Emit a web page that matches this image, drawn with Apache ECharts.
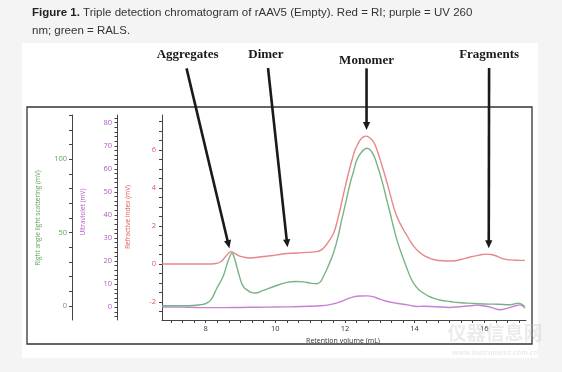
<!DOCTYPE html>
<html><head><meta charset="utf-8">
<script src="https://cdn.jsdelivr.net/npm/echarts@6/dist/echarts.min.js"></script>
<style>html,body{margin:0;padding:0;background:#f4f4f4}#c{width:562px;height:372px}</style>
</head><body><div id="c"></div>
<script>
// ---- data ----
const redX = [6.75,7.5,8.0,8.3,8.45,8.6,8.72,8.85,9.0,9.27,9.6,10.0,10.33,10.8,11.19,11.3,11.38,11.5,11.67,11.8,11.9,12.0,12.1,12.2,12.29,12.37,12.45,12.53,12.6,12.7,12.82,12.9,13.0,13.1,13.2,13.3,13.39,13.48,13.58,13.68,13.78,13.87,13.97,14.1,14.25,14.4,14.54,14.8,15.11,15.35,15.6,15.85,16.07,16.2,16.31,16.5,16.65,16.9,17.17];
const redY = [0,0,0,0.03,0.15,0.45,0.65,0.55,0.4,0.32,0.38,0.47,0.55,0.6,0.65,0.72,0.83,1.1,1.6,2.4,3.2,4.0,4.77,5.45,6.0,6.3,6.55,6.68,6.72,6.65,6.42,6.1,5.55,4.95,4.32,3.65,3.05,2.55,2.15,1.8,1.5,1.22,0.95,0.68,0.47,0.33,0.24,0.17,0.16,0.25,0.37,0.47,0.52,0.5,0.45,0.3,0.23,0.2,0.19];

const greenX = [6.75,7.5,7.84,8.0,8.15,8.32,8.5,8.62,8.7,8.75,8.82,8.89,8.96,9.03,9.1,9.18,9.3,9.42,9.65,10.0,10.33,10.6,10.8,11.0,11.19,11.3,11.38,11.5,11.67,11.8,11.9,12.0,12.15,12.25,12.34,12.48,12.63,12.72,12.82,12.9,13.0,13.1,13.2,13.3,13.39,13.48,13.58,13.68,13.78,13.87,13.97,14.1,14.25,14.4,14.54,14.75,15.02,15.25,15.49,15.8,16.07,16.4,16.74,16.85,16.98,17.08,17.17];
const greenY = [0,0,0.7,1.5,4,12,20,29,34,36,33,27,21,15.5,12.5,10.9,9.2,8.7,10.5,13.5,16.0,16.6,16.3,15.5,15.0,16.5,20,26,36,47,58,68,83.6,92,99.5,105,107.5,106.5,103,98,90.5,82,72.3,63,54,46,38.5,32,25.5,20,15.5,11.5,8.7,6.6,5.2,3.8,2.9,2.2,1.8,1.4,1.2,1.0,0.7,1.2,1.8,1.0,-0.5];

const purpleX = [6.75,7.5,8.0,8.5,9.0,9.5,10.0,10.5,11.0,11.3,11.5,11.7,11.86,12.0,12.22,12.45,12.63,12.8,13.0,13.2,13.48,13.58,13.8,14.06,14.25,14.6,15.02,15.3,15.6,15.79,16.0,16.2,16.46,16.65,16.85,17.03,17.17];
const purpleY = [0.1,0,-0.2,-0.2,-0.1,0.0,0.1,0.2,0.4,0.6,0.9,1.6,2.3,3.2,4.4,4.85,4.9,4.6,3.5,2.6,1.7,1.5,1.0,0.3,0.4,0.2,-0.1,0.2,0.6,0.9,0.5,-0.1,-1.1,-0.5,0.4,1.0,-0.4];

const xLabels = [8,10,12,14,16];
const redLabels = [-2,0,2,4,6];
const greenLabels = [0,50,100];
const purpleLabels = [0,10,20,30,40,50,60,70,80];

// annotations in data units (x: mL, y: RI units)
const annNames = ['Aggregates','Dimer','Monomer','Fragments'];
const annTipX  = [8.68,10.35,12.62,16.13];
const annTipY  = [0.83,0.88,7.04,0.83];
const annTailX = [7.45,9.79,12.62,16.14];
const annTailY = [10.28,10.30,10.28,10.30];
const annLabelX = [7.48,9.73,12.62,16.14];
const annLabelY = [10.98,10.98,10.68,10.98];

// ---- helpers ----
function range(a,b,s){const r=[];for(let v=a;v<=b+1e-9;v+=s)r.push(Math.round(v*1000)/1000);return r;}
function zip(xs,ys){return xs.map((x,i)=>[x,ys[i]]);}

const chart = echarts.init(document.getElementById('c'),null,{renderer:'canvas'});
const axFont = '"Open Sans", "Noto Sans", sans-serif';
const lineCol = '#444';

const option = {
  animation:false,
  backgroundColor:'#f4f4f4',
  grid:{left:162, top:115, right:36, bottom:52, containLabel:false, outerBoundsMode:'none'},
  xAxis:{
    type:'value', min:6.745, max:17.2, position:'bottom',
    axisLine:{onZero:false, lineStyle:{color:lineCol,width:1}},
    axisTick:{show:true, length:3, inside:false, customValues:range(7,17,1/3), lineStyle:{color:lineCol}},
    axisLabel:{customValues:xLabels, fontSize:7.5, color:'#333', margin:5, fontFamily:axFont},
    splitLine:{show:false}
  },
  yAxis:[
    {type:'value', min:-2.94, max:7.83, position:'left', offset:0,
     axisLine:{show:true,onZero:false,lineStyle:{color:lineCol}},
     axisTick:{show:true,length:3,customValues:range(-2.5,7.5,0.5),lineStyle:{color:lineCol}},
     axisLabel:{customValues:redLabels, fontSize:7.5, color:'#e05a5a', margin:6, fontFamily:axFont},
     splitLine:{show:false}},
    {type:'value', min:-9.7, max:130.2, position:'left', offset:90,
     axisLine:{show:true,onZero:false,lineStyle:{color:lineCol}},
     axisTick:{show:true,length:3,customValues:range(0,130,10),lineStyle:{color:lineCol}},
     axisLabel:{customValues:greenLabels, fontSize:7.5, color:'#5da35d', margin:5, fontFamily:axFont},
     splitLine:{show:false}},
    {type:'value', min:-5.55, max:83.35, position:'left', offset:45,
     axisLine:{show:true,onZero:false,lineStyle:{color:lineCol}},
     axisTick:{show:true,length:2.5,customValues:range(-4,82,2),lineStyle:{color:lineCol}},
     axisLabel:{customValues:purpleLabels, fontSize:7.5, color:'#b05cc0', margin:5, fontFamily:axFont},
     splitLine:{show:false}}
  ],
  series:[
    {name:'UV', type:'line', xAxisIndex:0, yAxisIndex:2, data:zip(purpleX,purpleY), showSymbol:false, smooth:0.4,
     lineStyle:{color:'#c97fd6', width:1.4}, z:2},
    {name:'RALS', type:'line', xAxisIndex:0, yAxisIndex:1, data:zip(greenX,greenY), showSymbol:false, smooth:0.4,
     lineStyle:{color:'#78b483', width:1.4}, z:3},
    {name:'RI', type:'line', xAxisIndex:0, yAxisIndex:0, data:zip(redX,redY), showSymbol:false, smooth:0.4,
     lineStyle:{color:'#e8868a', width:1.4}, z:4}
  ]
};
chart.setOption(option);

const g = [
  {type:'rect', z:-10, shape:{x:22,y:43,width:516,height:315}, style:{fill:'#ffffff'}, silent:true},
  {type:'rect', z:-9, shape:{x:27,y:107,width:505,height:237}, style:{fill:'#ffffff',stroke:'#333',lineWidth:1.3}, silent:true},
  {type:'text', left:32, top:3, z:10, style:{
     text:'{b|Figure 1.} Triple detection chromatogram of rAAV5 (Empty). Red = RI; purple = UV 260\nnm; green = RALS.',
     font:'11.5px "Liberation Sans", Arial, sans-serif', fill:'#333', lineHeight:18.7,
     rich:{b:{fontWeight:'bold', fontSize:11.5, fontFamily:'"Liberation Sans", Arial, sans-serif', fill:'#222', lineHeight:18.7}}}},
  {type:'text', z:10, x:38, y:218, rotation:Math.PI/2, style:{text:'Right angle light scattering (mV)', fill:'#5da35d', font:'6.5px '+axFont, align:'center', verticalAlign:'middle'}},
  {type:'text', z:10, x:83.3, y:212, rotation:Math.PI/2, style:{text:'Ultraviolet (mV)', fill:'#b05cc0', font:'6.5px '+axFont, align:'center', verticalAlign:'middle'}},
  {type:'text', z:10, x:127.7, y:217, rotation:Math.PI/2, style:{text:'Refractive index (mV)', fill:'#e05a5a', font:'6.5px '+axFont, align:'center', verticalAlign:'middle'}},
  {type:'text', z:10, x:343, y:340.5, style:{text:'Retention volume (mL)', fill:'#333', font:'7px '+axFont, align:'center', verticalAlign:'middle'}},
  {type:'text', z:11, x:495, y:333, style:{text:'仪器信息网', fill:'rgba(190,190,190,0.3)', font:'bold 19px "Noto Sans CJK SC", sans-serif', align:'center', verticalAlign:'middle'}},
  {type:'text', z:11, x:495, y:353, style:{text:'www.instrument.com.cn', fill:'rgba(190,190,190,0.3)', font:'bold 7px "Noto Sans", sans-serif', align:'center', verticalAlign:'middle'}}
];

function px(x,y){return chart.convertToPixel({xAxisIndex:0,yAxisIndex:0},[x,y]);}
for(let i=0;i<annNames.length;i++){
  const tip = px(annTipX[i],annTipY[i]);
  const tail = px(annTailX[i],annTailY[i]);
  const lab = px(annLabelX[i],annLabelY[i]);
  const dx = tip[0]-tail[0], dy = tip[1]-tail[1];
  const L = Math.sqrt(dx*dx+dy*dy); const ux=dx/L, uy=dy/L;
  const hl=8, hw=3.6;
  const base=[tip[0]-ux*hl, tip[1]-uy*hl];
  g.push({type:'line', z:12, shape:{x1:tail[0],y1:tail[1],x2:base[0]+ux*1,y2:base[1]+uy*1}, style:{stroke:'#1a1a1a',lineWidth:2.6}});
  g.push({type:'polygon', z:12, shape:{points:[tip,[base[0]-uy*hw,base[1]+ux*hw],[base[0]+uy*hw,base[1]-ux*hw]]}, style:{fill:'#1a1a1a'}});
  g.push({type:'text', z:12, x:lab[0], y:lab[1], style:{text:annNames[i], fill:'#1a1a1a', font:'bold 13px "Liberation Serif", "Times New Roman", serif', align:'center', verticalAlign:'middle'}});
}
chart.setOption({graphic:g});
</script></body></html>
